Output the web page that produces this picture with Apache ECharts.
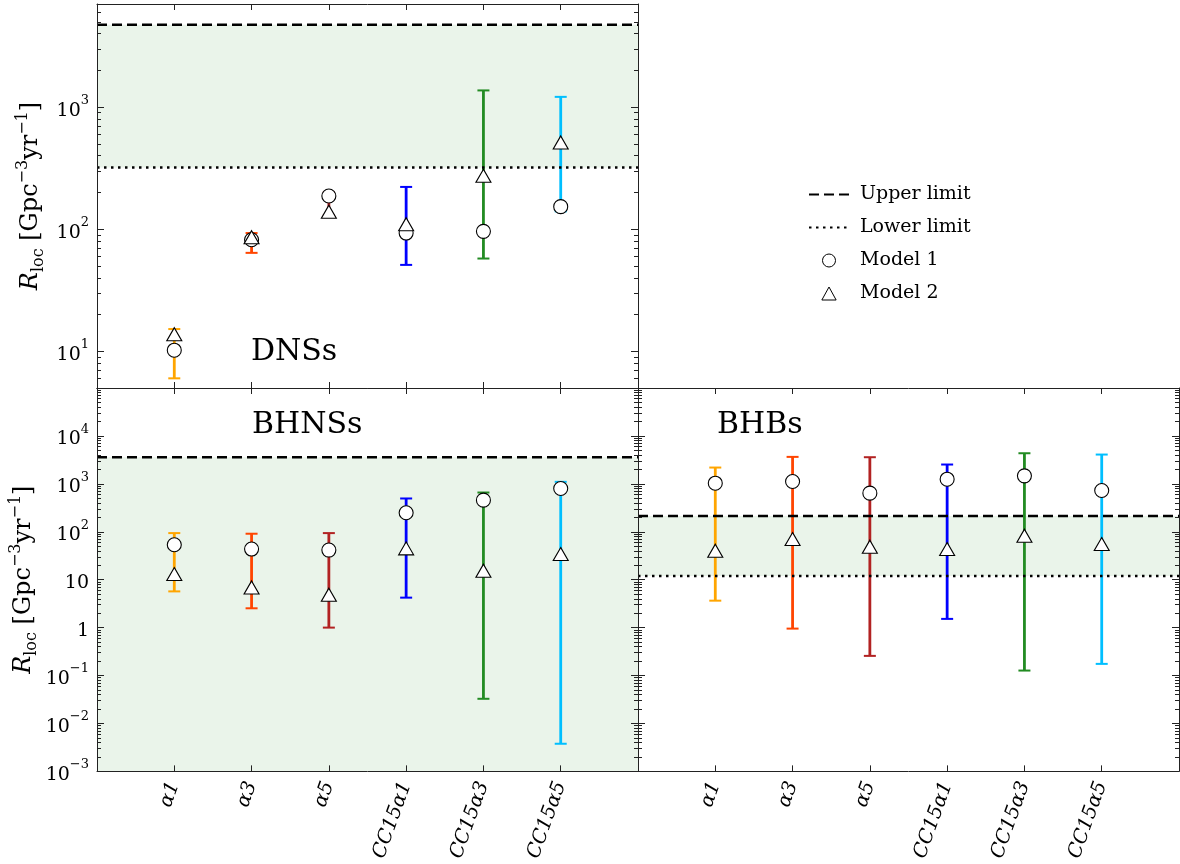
<!DOCTYPE html>
<html>
<head>
<meta charset="utf-8">
<script src="https://cdn.jsdelivr.net/npm/echarts@6/dist/echarts.min.js"></script>
<style>
  html, body { margin: 0; padding: 0; background: #fff; }
  #chart { width: 1180px; height: 864px; }
</style>
</head>
<body>
<div id="chart"></div>
<script>
const categories = ['α1', 'α3', 'α5', 'CC15α1', 'CC15α3', 'CC15α5']
const xPos = [1, 2, 3, 4, 5, 6]
const barColors = ['#ffa500', '#ff4500', '#b22222', '#0000ff', '#228b22', '#00bfff']

// DNSs
const dnsModel1 = [10.2, 82, 187, 93, 96, 153]
const dnsModel2 = [13.8, 86, 139, 110, 274, 514]
const dnsErrLow = [6.0, 64, 130, 51, 57.5, 140]
const dnsErrHigh = [15.2, 93, 201, 222, 1371, 1214]
const dnsLower = 320
const dnsUpper = 4740

// BHNSs
const bhnsModel1 = [53.6, 43.6, 41.5, 249, 457, 800]
const bhnsModel2 = [13.1, 6.9, 4.87, 45, 15.4, 34.3]
const bhnsErrLow = [5.7, 2.53, 1.0, 4.22, 0.0327, 0.00377]
const bhnsErrHigh = [93.8, 91, 93.8, 495, 659, 1101]
const bhnsUpper = 3600

// BHBs
const bhbModel1 = [1032, 1119, 640, 1250, 1468, 726]
const bhbModel2 = [40.2, 70.4, 48.7, 43.6, 82.5, 55.3]
const bhbErrLow = [3.65, 0.953, 0.257, 1.52, 0.127, 0.175]
const bhbErrHigh = [2188, 3652, 3594, 2530, 4350, 4085]
const bhbLower = 12
const bhbUpper = 213

const FONT = 'DejaVu Serif'
const shade = '#eaf4ea'

function decades(lo, hi) {
  let out = []
  for (let e = lo; e <= hi; e++) out.push(Math.pow(10, e))
  return out
}
function minors(lo, hi, vmin, vmax) {
  let out = []
  for (let e = lo; e < hi; e++)
    for (let m = 2; m <= 9; m++) {
      let v = m * Math.pow(10, e)
      if (v > vmin && v < vmax) out.push(v)
    }
  return out
}
function powLabel(v, plainSmall) {
  let e = Math.round(Math.log10(v))
  if (plainSmall && e === 0) return '{b|1}'
  if (plainSmall && e === 1) return '{b|10}'
  return '{b|10}{s|' + (e < 0 ? '−' + (-e) : e) + '}'
}
const labelRich = {
  b: { fontFamily: FONT, fontSize: 19, color: '#000', lineHeight: 26, verticalAlign: 'bottom' },
  s: { fontFamily: FONT, fontSize: 13, color: '#000', lineHeight: 13, verticalAlign: 'top' }
}
const nameRich = {
  it: { fontFamily: FONT, fontSize: 24, fontStyle: 'italic', color: '#000', lineHeight: 32 },
  sub: { fontFamily: FONT, fontSize: 16, color: '#000', lineHeight: 22, verticalAlign: 'bottom' },
  sup: { fontFamily: FONT, fontSize: 16, color: '#000', lineHeight: 16, verticalAlign: 'top' }
}
const yName = '{it|R}{sub|loc} [Gpc{sup|−3}yr{sup|−1}]'

const grids = [
  { left: 97, top: 4, width: 541, height: 384 },
  { left: 97, top: 388, width: 541, height: 384 },
  { left: 638, top: 388, width: 541, height: 384 }
]
const yRanges = [[5, 7000], [1e-3, 1e5], [1e-3, 1e5]]

let xAxes = []
let yAxes = []
grids.forEach((g, gi) => {
  ;['bottom', 'top'].forEach((pos) => {
    xAxes.push({
      type: 'value', gridIndex: gi, position: pos, min: 0, max: 7, interval: 1, z: 10,
      axisLine: { show: true, onZero: false, lineStyle: { color: '#222', width: 1 } },
      axisTick: { show: true, inside: true, length: 6, customValues: xPos, lineStyle: { color: '#222' } },
      splitLine: { show: false },
      axisLabel: {
        show: pos === 'bottom' && gi > 0,
        customValues: xPos,
        rotate: 70, margin: 11,
        fontFamily: FONT, fontStyle: 'italic', fontSize: 19.5, color: '#000',
        formatter: (v) => categories[Math.round(v) - 1] || ''
      }
    })
  })
  let r = yRanges[gi]
  let lo = Math.round(Math.log10(r[0]) - 0.5), hi = Math.round(Math.log10(r[1]) + 0.5)
  let majors = decades(lo, hi).filter((v) => v >= r[0] * 0.999 && v <= r[1] * 1.001)
  let labelled = majors.filter((v) => v < r[1] * 0.999)
  let mins = minors(lo, hi, r[0], r[1])
  ;['left', 'right'].forEach((pos) => {
    let isLabelled = pos === 'left' && gi < 2
    yAxes.push({
      type: 'log', logBase: 10, gridIndex: gi, position: pos, min: r[0], max: r[1], z: 10,
      name: isLabelled ? yName : '',
      nameLocation: 'middle', nameRotate: 90, nameGap: gi === 0 ? 50 : 57,
      nameTextStyle: { fontFamily: FONT, fontSize: 24, color: '#000', lineHeight: 32, rich: nameRich },
      axisLine: { show: true, lineStyle: { color: '#222', width: 1 } },
      axisTick: { show: true, inside: true, length: 7, customValues: majors, lineStyle: { color: '#222' } },
      splitLine: { show: false },
      axisLabel: {
        show: isLabelled, customValues: labelled, margin: 8,
        formatter: (v) => powLabel(v, gi === 1), rich: labelRich
      }
    })
    yAxes.push({
      type: 'log', logBase: 10, gridIndex: gi, position: pos, min: r[0], max: r[1], z: 10,
      axisLine: { show: false },
      axisTick: { show: true, inside: true, length: 4, customValues: mins, lineStyle: { color: '#222' } },
      splitLine: { show: false },
      axisLabel: { show: false }
    })
  })
})

function errorBars(gi, lows, highs) {
  return {
    type: 'custom', xAxisIndex: gi * 2, yAxisIndex: gi * 4, z: 3,
    data: xPos.map((x, i) => [x, lows[i], highs[i]]),
    encode: { x: 0, y: [1, 2] },
    renderItem: (params, api) => {
      let x = api.value(0)
      let pLo = api.coord([x, api.value(1)])
      let pHi = api.coord([x, api.value(2)])
      let c = barColors[params.dataIndex]
      let half = 6
      return {
        type: 'group',
        children: [
          { type: 'line', shape: { x1: pLo[0], y1: pLo[1], x2: pHi[0], y2: pHi[1] }, style: { stroke: c, lineWidth: 2.8 } },
          { type: 'line', shape: { x1: pLo[0] - half, y1: pLo[1], x2: pLo[0] + half, y2: pLo[1] }, style: { stroke: c, lineWidth: 2 } },
          { type: 'line', shape: { x1: pHi[0] - half, y1: pHi[1], x2: pHi[0] + half, y2: pHi[1] }, style: { stroke: c, lineWidth: 2 } }
        ]
      }
    }
  }
}
function limitLine(gi, name, v, dash) {
  return {
    type: 'line', name: name, xAxisIndex: gi * 2, yAxisIndex: gi * 4, z: 4,
    data: [[0, v], [7, v]], symbol: 'none', silent: true,
    itemStyle: { color: '#000', opacity: 0 },
    lineStyle: { color: '#000', width: 2.5, type: dash, opacity: 1 }
  }
}
function band(gi, lo, hi) {
  return {
    type: 'line', name: 'band' + gi, xAxisIndex: gi * 2, yAxisIndex: gi * 4, z: 1,
    data: [], silent: true,
    markArea: { silent: true, itemStyle: { color: shade }, data: [[{ yAxis: lo }, { yAxis: hi }]] }
  }
}
function models(gi, m1, m2) {
  return [
    {
      type: 'scatter', name: 'Model 1', xAxisIndex: gi * 2, yAxisIndex: gi * 4, z: 5,
      symbol: 'circle', symbolSize: 14,
      itemStyle: { color: '#fff', borderColor: '#000', borderWidth: 1.1, opacity: 1 },
      data: xPos.map((x, i) => [x, m1[i]])
    },
    {
      type: 'scatter', name: 'Model 2', xAxisIndex: gi * 2, yAxisIndex: gi * 4, z: 6,
      symbol: 'triangle', symbolSize: [15, 13],
      itemStyle: { color: '#fff', borderColor: '#000', borderWidth: 1.1, opacity: 1 },
      data: xPos.map((x, i) => [x, m2[i]])
    }
  ]
}

const DASH = [10, 5]
const DOT = [2.5, 4.5]

let series = [
  band(0, dnsLower, dnsUpper),
  errorBars(0, dnsErrLow, dnsErrHigh),
  limitLine(0, 'Upper limit', dnsUpper, DASH),
  limitLine(0, 'Lower limit', dnsLower, DOT),
  ...models(0, dnsModel1, dnsModel2),

  band(1, 1e-3, bhnsUpper),
  errorBars(1, bhnsErrLow, bhnsErrHigh),
  limitLine(1, 'Upper limit', bhnsUpper, DASH),
  ...models(1, bhnsModel1, bhnsModel2),

  band(2, bhbLower, bhbUpper),
  errorBars(2, bhbErrLow, bhbErrHigh),
  limitLine(2, 'Upper limit', bhbUpper, DASH),
  limitLine(2, 'Lower limit', bhbLower, DOT),
  ...models(2, bhbModel1, bhbModel2)
]

const panelTitle = (text, left, top) => ({
  text: text, left: left, top: top,
  textStyle: { fontFamily: FONT, fontSize: 30, fontWeight: 'normal', color: '#000' }
})

const chart = echarts.init(document.getElementById('chart'), null, { renderer: 'canvas' })
chart.setOption({
  animation: false,
  backgroundColor: '#fff',
  title: [
    panelTitle('DNSs', 246, 332),
    panelTitle('BHNSs', 247, 405),
    panelTitle('BHBs', 712, 405)
  ],
  legend: {
    orient: 'vertical', left: 803, top: 180,
    itemWidth: 40, itemHeight: 13, itemGap: 14,
    selectedMode: false,
    textStyle: { fontFamily: FONT, fontSize: 19, color: '#000', padding: [0, 0, 0, 6] },
    data: [
      { name: 'Upper limit', itemStyle: { opacity: 0 } },
      { name: 'Lower limit', itemStyle: { opacity: 0 } },
      { name: 'Model 1', icon: 'circle', itemStyle: { borderWidth: 1 } },
      { name: 'Model 2', icon: 'path://M0,-10L11,10L-11,10Z', itemStyle: { borderWidth: 1 } }
    ]
  },
  grid: grids,
  xAxis: xAxes,
  yAxis: yAxes,
  series: series
})
</script>
</body>
</html>
